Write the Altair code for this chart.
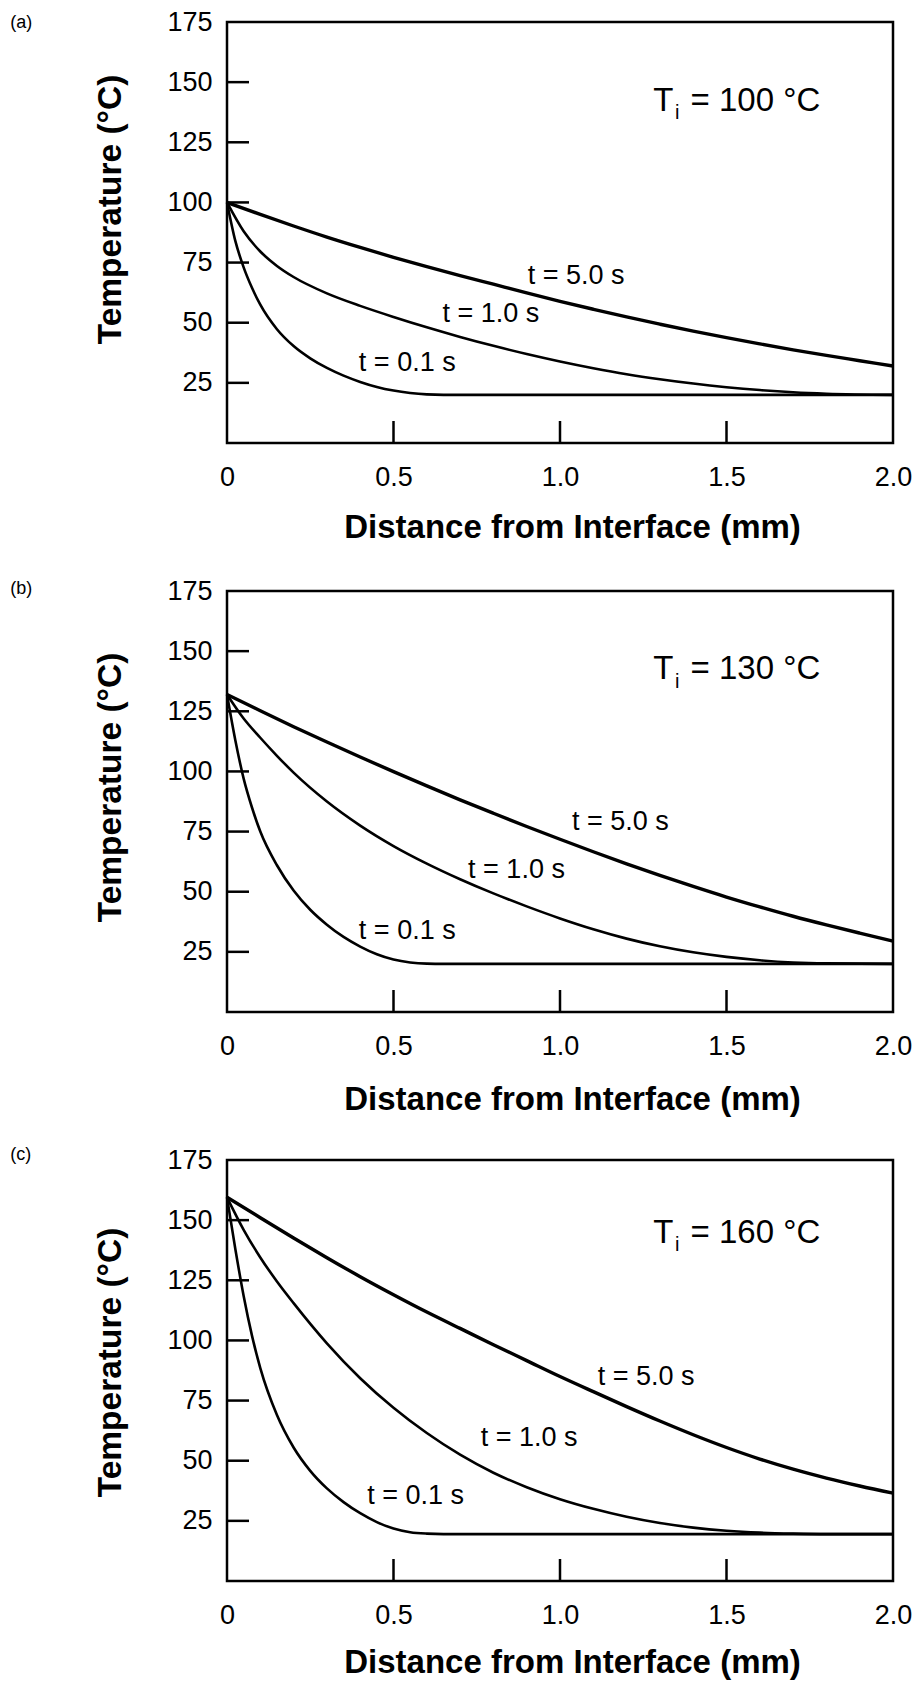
import altair as alt
import pandas as pd

FONT = "Liberation Sans, Arial, Helvetica, sans-serif"

# ---------------- data ----------------
X_T5 = [0, 0.1, 0.2, 0.3, 0.4, 0.5, 0.6, 0.7, 0.8, 0.9, 1.0, 1.1, 1.2, 1.3, 1.4,
        1.5, 1.6, 1.7, 1.8, 1.9, 2.0]
X_T1 = [0, 0.05, 0.1, 0.15, 0.2, 0.3, 0.4, 0.5, 0.6, 0.7, 0.8, 0.9, 1.0, 1.1, 1.2, 1.3,
        1.4, 1.5, 1.6, 1.7, 1.8, 2.0]
X_T01 = [0, 0.025, 0.05, 0.075, 0.1, 0.15, 0.2, 0.25, 0.3, 0.35, 0.4, 0.45, 0.5,
         0.55, 0.6, 0.65, 2.0]

# panel (a) Ti = 100 C
A_T5 = [100, 95, 90.2, 85.6, 81.3, 77.2, 73.3, 69.6, 66, 62.4, 58.9, 55.6, 52.4,
        49.4, 46.5, 43.8, 41.2, 38.7, 36.4, 34.2, 32]
A_T1 = [100, 88, 79.6, 73.6, 69.0, 62.2, 57.0, 52.4, 48.1, 44.1, 40.4, 37, 33.9, 31.1,
        28.6, 26.5, 24.7, 23.2, 22, 21.1, 20.5, 20]
A_T01 = [100, 84, 73, 64.5, 57.5, 47.3, 40.3, 35.2, 31.2, 28, 25.4, 23.3, 21.8, 20.8,
         20.2, 20, 20]

# panel (b) Ti = 130 C
B_T5 = [132, 125.2, 118.6, 112.2, 106, 99.9, 94, 88.2, 82.6, 77.1, 71.8, 66.6, 61.6,
        56.8, 52.2, 47.8, 43.7, 39.8, 36.2, 32.8, 29.5]
B_T1 = [132, 122, 114, 106.5, 99.5, 87.5, 77.5, 69, 61.7, 55.2, 49.3, 43.9, 38.9, 34.4,
        30.5, 27.3, 24.8, 22.9, 21.5, 20.6, 20.2, 20]
B_T01 = [132, 113, 97, 85, 75, 61, 50.5, 42.5, 36.3, 31.2, 27.2, 24, 21.8, 20.6, 20.1,
         20, 20]

# panel (c) Ti = 160 C
C_T5 = [159.5, 151, 142.6, 134.4, 126.5, 119, 111.8, 105, 98.2, 91.6, 85, 78.7, 72.5,
        66.5, 60.8, 55.5, 50.7, 46.5, 42.8, 39.5, 36.5]
C_T1 = [159.5, 146, 134.5, 124.5, 115.5, 98.8, 84.3, 72, 61.5, 52.5, 45, 39, 34, 30,
        26.7, 24.1, 22.2, 20.9, 20.1, 19.7, 19.5, 19.5]
C_T01 = [159.5, 138, 118.5, 102, 88.5, 69, 55.5, 45.8, 38.5, 32.8, 28.2, 24.5, 21.8,
         20.3, 19.7, 19.5, 19.5]

SERIES = ["t = 5.0 s", "t = 1.0 s", "t = 0.1 s"]
PANEL_TAGS = ["(a)", "(b)", "(c)"]
TI_TEXT = ["= 100 °C", "= 130 °C", "= 160 °C"]
Y_LABELS = [25, 50, 75, 100, 125, 150, 175]
Y_TICKS = [25, 50, 75, 100, 125, 150]
X_LABELS = [0, 0.5, 1.0, 1.5, 2.0]
X_TICKS = [0.5, 1.0, 1.5]

# annotation anchors (data coordinates)
LABEL_X = [[0.903, 0.647, 0.396], [1.036, 0.724, 0.396], [1.113, 0.762, 0.421]]
LABEL_Y = [[65.9, 50.2, 29.8], [75.5, 55.8, 30.4], [81.5, 56.0, 32.1]]
TI_Y = [138.1, 138.3, 140.5]
TAG_Y = [172.6, 173.6, 175.0]

# ---------------- layout / style constants ----------------
W, H = 666, 421
TICK_LEN_X = 22 / (W / 2.0)
TICK_LEN_Y = 22 / (H / 175.0)
XTITLE_Y = [94, 97, 91]
YTITLE_Y = [187, 196, 202]


def x_enc(ty):
    return alt.X(
        "x:Q",
        scale=alt.Scale(domain=[0, 2], nice=False, zero=False),
        axis=alt.Axis(
            values=X_LABELS,
            labelExpr="datum.value == 0 ? '0' : format(datum.value, '.1f')",
            ticks=False, tickSize=0, domain=False, grid=False,
            labelFontSize=27, labelPadding=21, labelFlush=False,
            labelColor="black",
            title="Distance from Interface (mm)", titleFontSize=33,
            titleFontWeight="bold", titleColor="black",
            titleX=345, titleY=ty, titleBaseline="alphabetic", titleAlign="center",
        ),
    )


def y_enc(ty):
    return alt.Y(
        "y:Q",
        scale=alt.Scale(domain=[0, 175], nice=False, zero=False),
        axis=alt.Axis(
            values=Y_LABELS,
            ticks=False, tickSize=0, domain=False, grid=False,
            labelFontSize=27, labelPadding=15, labelColor="black",
            title="Temperature (°C)", titleFontSize=33.5, titleFontWeight="bold",
            titleColor="black", titleAngle=270,
            titleX=-107, titleY=ty, titleBaseline="alphabetic", titleAlign="center",
        ),
    )


def panel(i, t5, t1, t01):
    xe = x_enc(XTITLE_Y[i])
    ye = y_enc(YTITLE_Y[i])

    rows = []
    for xs, ys, name, w in [(X_T5, t5, SERIES[0], 3.4), (X_T1, t1, SERIES[1], 2.6),
                            (X_T01, t01, SERIES[2], 2.6)]:
        for xv, yv in zip(xs, ys):
            rows.append({"x": xv, "y": yv, "series": name, "w": w})
    curves = pd.DataFrame(rows)

    lines = alt.Chart(curves).mark_line(interpolate="monotone", color="black").encode(
        x=xe, y=ye, detail="series:N",
        strokeWidth=alt.StrokeWidth("w:Q", scale=None, legend=None),
    )

    ytick_df = pd.DataFrame({"y": Y_TICKS, "x": [0.0] * len(Y_TICKS),
                             "x2": [TICK_LEN_X] * len(Y_TICKS)})
    yticks = alt.Chart(ytick_df).mark_rule(color="black", strokeWidth=2.5).encode(
        x=xe, x2="x2:Q", y=ye)

    xtick_df = pd.DataFrame({"x": X_TICKS, "y": [0.0] * len(X_TICKS),
                             "y2": [TICK_LEN_Y] * len(X_TICKS)})
    xticks = alt.Chart(xtick_df).mark_rule(color="black", strokeWidth=2.5).encode(
        x=xe, y=ye, y2="y2:Q")

    lab_df = pd.DataFrame({"x": LABEL_X[i], "y": LABEL_Y[i], "label": SERIES})
    labels = alt.Chart(lab_df).mark_text(
        align="left", baseline="alphabetic", fontSize=27, font=FONT, color="black"
    ).encode(x=xe, y=ye, text="label:N")

    ti_main = pd.DataFrame({"x": [1.28, 1.392], "y": [TI_Y[i], TI_Y[i]],
                            "label": ["T", TI_TEXT[i]]})
    ti_txt = alt.Chart(ti_main).mark_text(
        align="left", baseline="alphabetic", fontSize=33, font=FONT, color="black"
    ).encode(x=xe, y=ye, text="label:N")

    ti_sub = pd.DataFrame({"x": [1.345], "y": [TI_Y[i] - 3.5], "label": ["i"]})
    ti_i = alt.Chart(ti_sub).mark_text(
        align="left", baseline="alphabetic", fontSize=20, font=FONT, color="black"
    ).encode(x=xe, y=ye, text="label:N")

    tag_df = pd.DataFrame({"x": [-0.651], "y": [TAG_Y[i]], "label": [PANEL_TAGS[i]]})
    tag = alt.Chart(tag_df).mark_text(
        align="left", baseline="alphabetic", fontSize=18, font=FONT, color="black"
    ).encode(x=xe, y=ye, text="label:N")

    return alt.layer(lines, yticks, xticks, labels, ti_txt, ti_i, tag).properties(
        width=W, height=H)


chart = alt.vconcat(
    panel(0, A_T5, A_T1, A_T01),
    panel(1, B_T5, B_T1, B_T01),
    panel(2, C_T5, C_T1, C_T01),
    spacing=148,
    bounds="flush",
).properties(
    padding={"left": 8, "top": 6, "right": 0, "bottom": 0},
    background="white",
).configure_view(
    stroke="black", strokeWidth=2.5
).configure_axis(
    labelFont=FONT, titleFont=FONT
)

chart.save("out.html", embed_options={"renderer": "svg", "actions": False})
